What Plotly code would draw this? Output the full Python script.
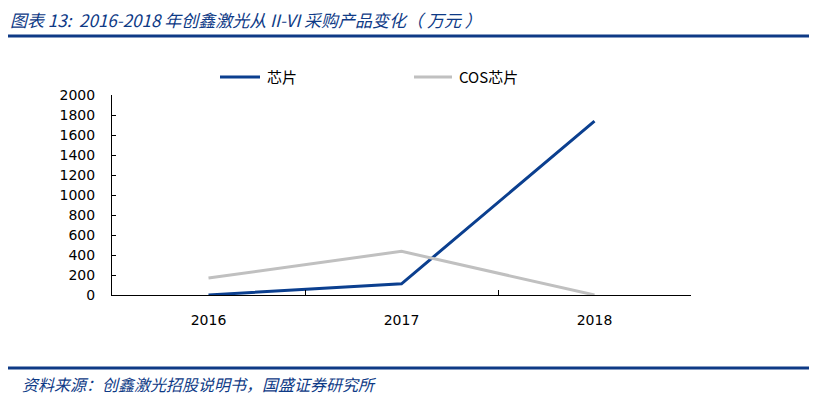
import plotly.graph_objects as go

years = ["2016", "2017", "2018"]
chip = [0, 112, 1738]
cos_chip = [170, 437, 0]
series_names = ["芯片", "COS芯片"]
title_text = "图表 13:  2016-2018 年创鑫激光从 II-VI 采购产品变化（ 万元 ）"
source_text = "资料来源：创鑫激光招股说明书，国盛证券研究所"

DARK_BLUE = "#0E3A86"
LINE_BLUE = "#0B3F8F"
GRAY = "#C0C0C0"
series_colors = [LINE_BLUE, GRAY]

OFF = 8  # browser body margin
W, H = 817 - OFF, 399 - OFF
L = 112 - OFF
R = 817 - 691
T = 95 - OFF
B = 399 - 295
pw, ph = W - L - R, H - T - B

def px_x(x):
    return (x - OFF - L) / pw

def px_y(y):
    return (H - B - (y - OFF)) / ph

fig = go.Figure()
fig.add_trace(go.Scatter(x=years, y=chip, mode="lines", name=series_names[0],
                         line=dict(color=series_colors[0], width=3), showlegend=False))
fig.add_trace(go.Scatter(x=years, y=cos_chip, mode="lines", name=series_names[1],
                         line=dict(color=series_colors[1], width=3), showlegend=False))

# custom legend (line sample + label)
legend_line_x = [(220, 260), (414, 452)]
legend_text_x = [265, 457]
legend_y = 77
shapes = [
    dict(type="line", xref="paper", yref="paper", x0=px_x(8), x1=px_x(810),
         y0=px_y(36), y1=px_y(36), line=dict(color=DARK_BLUE, width=3)),
    dict(type="line", xref="paper", yref="paper", x0=px_x(8), x1=px_x(810),
         y0=px_y(368), y1=px_y(368), line=dict(color=DARK_BLUE, width=3)),
]
annotations = [
    dict(text=title_text, xref="paper", yref="paper", x=px_x(8), y=px_y(19.5),
         xanchor="left", yanchor="middle", showarrow=False,
         font=dict(family="Noto Sans CJK SC", size=17, color=DARK_BLUE, style="italic")),
    dict(text=source_text, xref="paper", yref="paper", x=px_x(20), y=px_y(384),
         xanchor="left", yanchor="middle", showarrow=False,
         font=dict(family="Noto Sans CJK SC", size=16, color=DARK_BLUE, style="italic")),
]
for i, name in enumerate(series_names):
    x0, x1 = legend_line_x[i]
    shapes.append(dict(type="line", xref="paper", yref="paper", x0=px_x(x0), x1=px_x(x1),
                       y0=px_y(legend_y), y1=px_y(legend_y),
                       line=dict(color=series_colors[i], width=3)))
    annotations.append(dict(text=name, xref="paper", yref="paper", x=px_x(legend_text_x[i]),
                            y=px_y(legend_y), xanchor="left", yanchor="middle", showarrow=False,
                            font=dict(family="Noto Sans CJK SC", size=15, color="black")))

fig.update_layout(
    width=W, height=H,
    margin=dict(l=L, r=R, t=T, b=B, pad=0),
    paper_bgcolor="white", plot_bgcolor="white",
    font=dict(family="DejaVu Sans, Noto Sans CJK SC", size=13, color="black"),
    showlegend=False,
    xaxis=dict(type="category", showline=True, linecolor="black", linewidth=1,
               ticks="inside", ticklen=5, tickcolor="black", tickson="boundaries",
               showgrid=False, zeroline=False, ticklabelstandoff=12,
               tickfont=dict(family="DejaVu Sans", size=14),
               range=[-0.5, 2.5]),
    yaxis=dict(range=[0, 2000], dtick=200, tick0=0, showline=True, linecolor="black",
               linewidth=1, ticks="inside", ticklen=4, tickcolor="black",
               showgrid=False, zeroline=False, ticklabelstandoff=13,
               tickfont=dict(family="DejaVu Sans", size=14)),
    shapes=shapes,
    annotations=annotations,
)

fig.write_html("out.html")
